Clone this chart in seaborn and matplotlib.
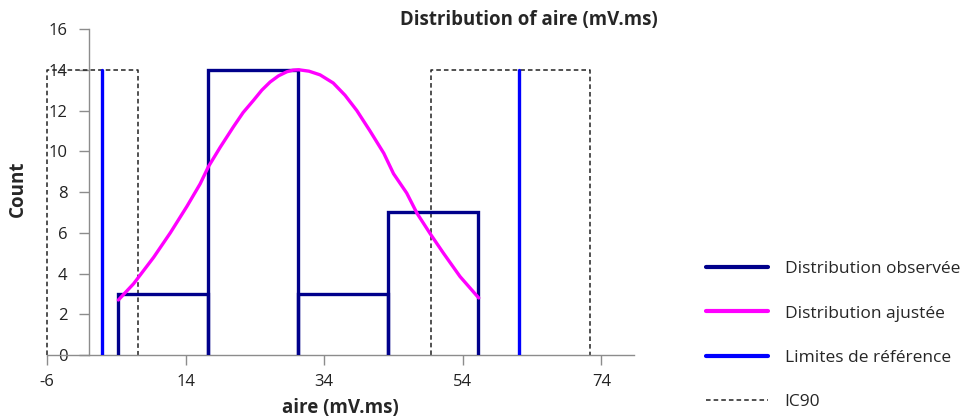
import matplotlib
matplotlib.use("Agg")
import matplotlib.pyplot as plt
import seaborn as sns
from matplotlib.lines import Line2D

# histogram of observed values (bin edges and counts)
bin_edges = [4.25, 17.25, 30.25, 43.25, 56.25]
bin_counts = [3, 14, 3, 7]

# fitted distribution
fit_x = [4.3, 6.5, 9.4, 11.8, 14.2, 16.1, 17.3, 19.0, 20.9, 22.3, 23.8, 25.0,
         26.2, 27.4, 28.6, 29.5, 30.3, 31.8, 33.4, 35.3, 37.0, 38.7, 40.6,
         42.6, 44.0, 45.9, 47.4, 49.3, 51.2, 53.6, 56.3]
fit_y = [2.7, 3.5, 4.8, 6.0, 7.3, 8.4, 9.25, 10.2, 11.2, 11.9, 12.5, 13.0,
         13.4, 13.7, 13.9, 13.98, 14.0, 13.93, 13.75, 13.35, 12.75, 12.0,
         11.0, 9.9, 8.9, 7.95, 6.95, 5.95, 5.0, 3.85, 2.8]

# reference limits and IC90 boxes
ref_limits = [1.9, 62.15]
ic90_boxes = [(-6.0, 7.1), (49.4, 72.4)]
box_height = 14

x_ticks = [-6, 14, 34, 54, 74]
y_ticks = [0, 2, 4, 6, 8, 10, 12, 14, 16]

navy = '#00008B'
magenta = '#FF00FF'
blue = '#0000FF'
axis_grey = '#8C8C8C'

sns.set_theme(style="white")
plt.rcParams['font.family'] = ['Open Sans', 'DejaVu Sans']
plt.rcParams['axes.unicode_minus'] = False

fig = plt.figure(figsize=(9.79, 4.19), dpi=100)
ax = fig.add_axes([0.048, 0.1527, 0.5996, 0.7781])

# IC90 dashed open boxes
for lo, hi in ic90_boxes:
    ax.plot([lo, lo, hi, hi], [0, box_height, box_height, 0], color='#222222',
            lw=1.1, ls=(0, (3, 2)), clip_on=False, zorder=2)

# observed distribution: each bar as an open rectangle
for i, h in enumerate(bin_counts):
    l, r = bin_edges[i], bin_edges[i + 1]
    ax.plot([l, l, r, r], [0, h, h, 0], color=navy, lw=2.4, zorder=3,
            solid_joinstyle='miter')

# fitted curve
sns.lineplot(x=fit_x, y=fit_y, color=magenta, lw=2.4, sort=False, ax=ax,
             zorder=4)

# reference limits
for xv in ref_limits:
    ax.plot([xv, xv], [0, box_height], color=blue, lw=2.4, zorder=3)

ax.set_xlim(-6, 78.7)
ax.set_ylim(0, 16)
ax.set_xticks(x_ticks)
ax.set_yticks(y_ticks)

for side in ['top', 'right']:
    ax.spines[side].set_visible(False)
ax.spines['left'].set_position(('data', 0))
ax.spines['left'].set_bounds(0, 16)
for side in ['left', 'bottom']:
    ax.spines[side].set_color(axis_grey)
    ax.spines[side].set_linewidth(1.0)

ax.tick_params(axis='both', which='major', direction='out', length=7,
               width=1.0, color=axis_grey, labelsize=12, labelcolor='#222222',
               left=True, bottom=True)
ax.tick_params(axis='y', pad=8)
ax.tick_params(axis='x', pad=7)

ax.set_xlabel('aire (mV.ms)', fontsize=13.5, fontweight='bold')
ax.set_ylabel('Count', fontsize=13.5, fontweight='bold')
ax.xaxis.set_label_coords(0.5, -0.163)
ax.xaxis.label.set_va('center')
ax.yaxis.set_label_coords(-0.049, 0.51)
ax.yaxis.label.set_va('center')

fig.text(0.540, 0.952, 'Distribution of aire (mV.ms)', ha='center',
         va='center', fontsize=13.4, fontweight='bold')

handles = [
    Line2D([], [], color=navy, lw=3),
    Line2D([], [], color=magenta, lw=3),
    Line2D([], [], color=blue, lw=3),
    Line2D([], [], color='#222222', lw=1.1, ls=(0, (3, 2))),
]
labels = ['Distribution observée', 'Distribution ajustée',
          'Limites de référence', 'IC90']
fig.legend(handles, labels, loc='center left', bbox_to_anchor=(0.721, 0.199),
           frameon=False, fontsize=12.5, handlelength=3.56, handletextpad=0.98,
           labelspacing=1.62, borderpad=0, borderaxespad=0)

fig.savefig('out.png', dpi=100)
